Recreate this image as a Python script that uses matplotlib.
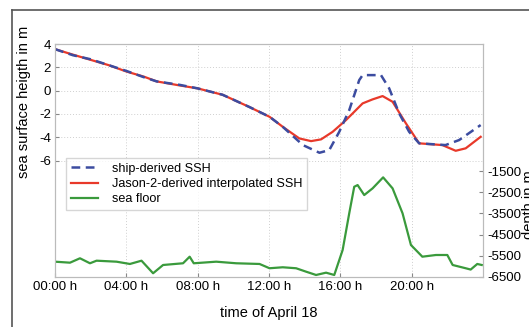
import matplotlib
matplotlib.use("Agg")
import matplotlib.pyplot as plt
from matplotlib.lines import Line2D

plt.rcParams["font.family"] = ["Liberation Sans", "DejaVu Sans"]
plt.rcParams["axes.unicode_minus"] = False

# ── data ─────────────────────────────────────────────────────────────────────
red_hours = [0, 1, 2, 3, 4, 5, 5.7, 7, 8, 9.4, 10.9, 12.03, 12.77, 13.7, 14.36,
             14.92, 15.57, 16.32, 17.25, 17.8, 18.37, 18.93, 19.68, 20.42,
             21.72, 22.47, 23.03, 23.87]
red_ssh = [3.57, 3.1, 2.65, 2.2, 1.65, 1.2, 0.8, 0.45, 0.2, -0.35, -1.4, -2.24,
           -3.1, -4.1, -4.33, -4.18, -3.53, -2.52, -1.09, -0.75, -0.46, -0.95,
           -2.81, -4.52, -4.67, -5.16, -4.95, -3.96]

ship_hours = [0, 1, 2, 3, 4, 5, 5.7, 7, 8, 9.4, 10.9, 12.03, 12.77, 13.9,
              14.83, 15.38, 15.94, 16.5, 17.06, 17.25, 18.28, 18.74, 19.3,
              19.86, 20.42, 21.9, 22.66, 23.87]
ship_ssh = [3.57, 3.05, 2.7, 2.2, 1.7, 1.15, 0.8, 0.5, 0.2, -0.35, -1.4, -2.24,
            -3.1, -4.67, -5.33, -5.1, -3.53, -1.67, 0.91, 1.34, 1.34, 0.2,
            -1.95, -3.53, -4.52, -4.67, -4.24, -2.95]

floor_hours = [0, 0.84, 1.4, 1.96, 2.33, 3.45, 4.2, 4.85, 5.5, 6.06, 7.18,
               7.55, 7.78, 9.04, 10.16, 11.47, 12.03, 12.77, 13.52, 14.08,
               14.64, 15.2, 15.66, 16.13, 16.5, 16.78, 16.97, 17.34, 17.81,
               18.4, 18.93, 19.49, 19.96, 20.6, 21.36, 22.0, 22.3, 23.03,
               23.31, 23.68, 23.93]
floor_depth = [-5778, -5825, -5617, -5853, -5731, -5778, -5886, -5731, -6325,
               -5934, -5853, -5542, -5853, -5778, -5853, -5886, -6088, -6042,
               -6088, -6250, -6406, -6297, -6406, -5226, -3493, -2238, -2158,
               -2630, -2313, -1794, -2313, -3493, -4990, -5542, -5462, -5462,
               -5934, -6088, -6150, -5886, -5934]

x_ticks = [0, 4, 8, 12, 16, 20]
x_labels = ["00:00 h", "04:00 h", "08:00 h", "12:00 h", "16:00 h", "20:00 h"]
ssh_ticks = [4, 2, 0, -2, -4, -6]
depth_ticks = [-1500, -2500, -3500, -4500, -5500, -6500]

# ── figure ───────────────────────────────────────────────────────────────────
fig = plt.figure(figsize=(5.29, 3.27), dpi=100, facecolor="white")
ax = fig.add_axes([0.104, 0.153, 0.809, 0.712])
ax2 = ax.twinx()

ax.plot(red_hours, red_ssh, color="#e8392a", lw=1.6, zorder=3)
ax.plot(ship_hours, ship_ssh, color="#3c4ca0", lw=1.8, ls=(0, (3.5, 2.2)),
        zorder=4)
ax2.plot(floor_hours, floor_depth, color="#3a9a3c", lw=1.6)

ax.set_xlim(0, 24)
ax.set_ylim(-16, 4)
ax2.set_ylim(-6500, 4500)
ax.set_xticks(x_ticks)
ax.set_xticklabels(x_labels)
ax.set_yticks(ssh_ticks)
ax2.set_yticks(depth_ticks)

ax.grid(True, ls=(0, (1, 2)), color="#cfcfcf", lw=0.7)
for a in (ax, ax2):
    a.tick_params(direction="in", length=3, labelsize=9.5, color="#888888",
                  pad=3)
    for s in a.spines.values():
        s.set_color("#bbbbbb")
        s.set_linewidth(0.8)

ax.set_xlabel("time of April 18", fontsize=10.5, labelpad=9)
ax.set_ylabel("sea surface heigth in m", fontsize=10.5)
ax.yaxis.set_label_coords(-0.056, 0.75)
# the page scan cuts this label off at the right edge
ax2.set_ylabel("depth in m", fontsize=10.5, rotation=90)
ax2.yaxis.set_label_coords(1.091, 0.31)

handles = [
    Line2D([], [], color="#3c4ca0", lw=1.8, ls=(0, (3.5, 2.2))),
    Line2D([], [], color="#e8392a", lw=1.6),
    Line2D([], [], color="#3a9a3c", lw=1.6),
]
ax.legend(handles, ["ship-derived SSH", "Jason-2-derived interpolated SSH",
                    "sea floor"],
          loc="upper left", bbox_to_anchor=(0.02, 0.52), fontsize=9.1,
          frameon=True, fancybox=False, edgecolor="#cccccc",
          handlelength=2.2, borderpad=0.35, labelspacing=0.25,
          handletextpad=1.1, borderaxespad=0.2)

# scanned page frame
fig.add_artist(Line2D([0.0227, 1.0], [0.969, 0.969], color="#555555", lw=1.2))
fig.add_artist(Line2D([0.0227, 0.0227], [0.0, 0.969], color="#555555", lw=1.2))

fig.savefig("out.png", dpi=100, facecolor="white")
